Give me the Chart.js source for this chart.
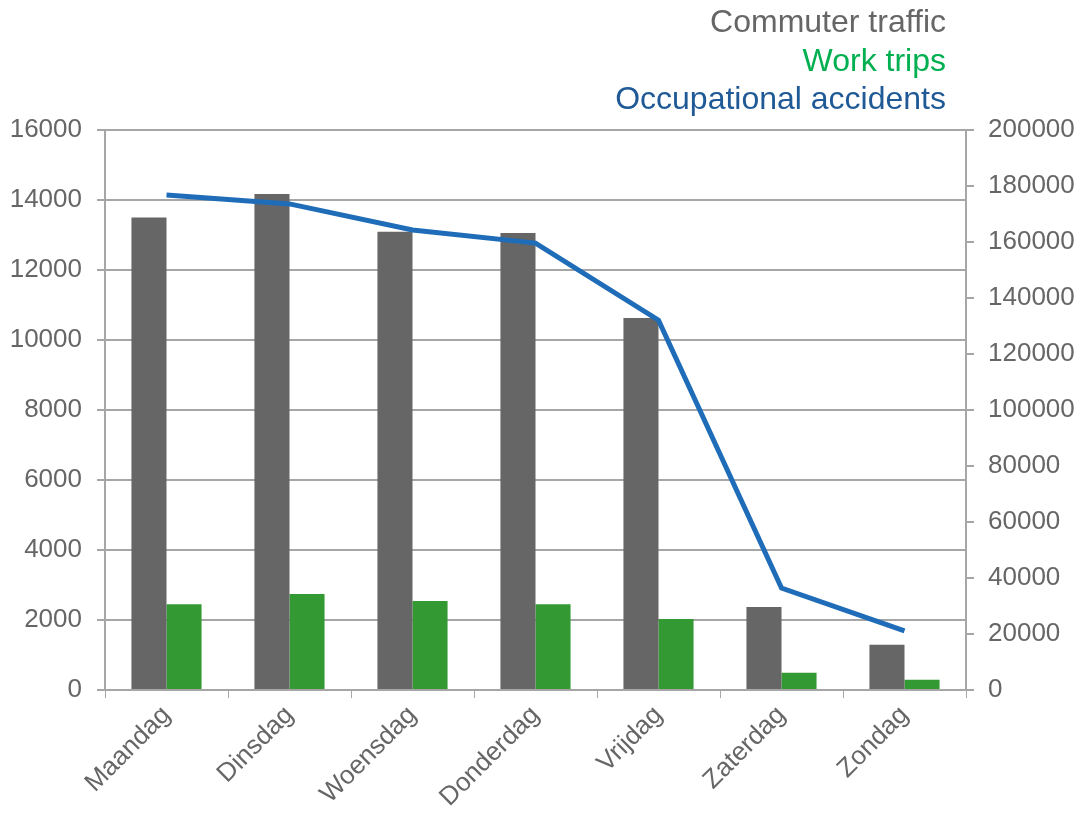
<!DOCTYPE html>
<html>
<head>
<meta charset="utf-8">
<script src="https://cdn.jsdelivr.net/npm/chart.js@4.4.1/dist/chart.umd.min.js"></script>
<style>
    body { margin: 0; background: #fff; }
    #wrap { position: relative; width: 1079px; height: 815px; }
    #legend {
        position: absolute; right: 133px; top: 2px;
        font-family: 'Liberation Sans', Arial, sans-serif;
        font-size: 32px; line-height: 38.5px; text-align: right;
    }
</style>
</head>
<body>
<div id="wrap">
    <canvas id="chart" width="1079" height="815"></canvas>
    <div id="legend">
        <div style="color:#666666">Commuter traffic</div>
        <div style="color:#00b050">Work trips</div>
        <div style="color:#1f5a96">Occupational accidents</div>
    </div>
</div>
<script>
// Dagen van de week en de drie reeksen
const days = ['Maandag', 'Dinsdag', 'Woensdag', 'Donderdag', 'Vrijdag', 'Zaterdag', 'Zondag'];
const commuterTraffic = [13500, 14170, 13090, 13060, 10630, 2370, 1290];
const workTrips = [2450, 2740, 2540, 2450, 2030, 490, 290];
const occupationalAccidents = [176800, 173600, 164300, 159600, 132100, 36400, 21100];

const axisGray = '#a6a6a6';
const textGray = '#666666';

Chart.defaults.font.family = "'Liberation Sans', Arial, sans-serif";
Chart.defaults.color = textGray;

const plainNumber = (v) => String(v);

const ctx = document.getElementById('chart').getContext('2d');
new Chart(ctx, {
    type: 'bar',
    data: {
        labels: days,
        datasets: [
            {
                type: 'line', label: 'Occupational accidents', data: occupationalAccidents,
                yAxisID: 'y1', borderColor: '#1f6db8', borderWidth: 5,
                pointRadius: 0, tension: 0, fill: false, order: 0
            },
            {
                label: 'Commuter traffic', data: commuterTraffic, yAxisID: 'y',
                backgroundColor: '#666666', order: 1,
                categoryPercentage: 0.57, barPercentage: 1
            },
            {
                label: 'Work trips', data: workTrips, yAxisID: 'y',
                backgroundColor: '#339933', order: 1,
                categoryPercentage: 0.57, barPercentage: 1
            }
        ]
    },
    options: {
        responsive: false,
        animation: false,
        layout: { padding: { top: 130, left: 0, right: 0, bottom: 0 } },
        scales: {
            x: {
                grid: { color: axisGray, drawOnChartArea: false, tickLength: 8 },
                border: { color: axisGray, width: 2 },
                ticks: { font: { size: 26 }, color: textGray, minRotation: 45, maxRotation: 45, padding: 2 },
                afterFit: (scale) => { scale.height = 125; }
            },
            y: {
                position: 'left', min: 0, max: 16000,
                grid: { color: axisGray, lineWidth: 2, tickLength: 8 },
                border: { color: axisGray, width: 2 },
                ticks: { stepSize: 2000, font: { size: 26 }, color: textGray, padding: 15, callback: plainNumber },
                afterFit: (scale) => { scale.width = 105; }
            },
            y1: {
                position: 'right', min: 0, max: 200000,
                grid: { color: axisGray, lineWidth: 2, drawOnChartArea: false, tickLength: 8 },
                border: { color: axisGray, width: 2 },
                ticks: { stepSize: 20000, font: { size: 26 }, color: textGray, padding: 14, callback: plainNumber },
                afterFit: (scale) => { scale.width = 113; }
            }
        },
        plugins: {
            legend: { display: false },
            tooltip: { enabled: false }
        }
    }
});
</script>
</body>
</html>
